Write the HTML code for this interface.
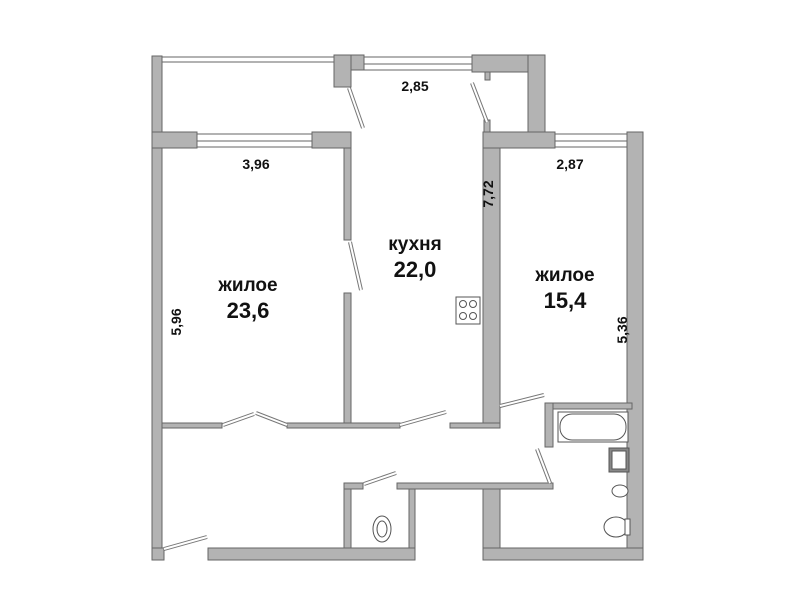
<!DOCTYPE html>
<html><head><meta charset="utf-8"><style>
html,body{margin:0;padding:0;background:#fff;}
svg{display:block}
text{font-family:"Liberation Sans",sans-serif;font-weight:bold;fill:#111;}
</style></head><body>
<svg width="800" height="599" viewBox="0 0 800 599" xmlns="http://www.w3.org/2000/svg">
<g fill="#b3b3b3" stroke="#666" stroke-width="1">
<!-- left outer wall -->
<rect x="152" y="56" width="10" height="504"/>
<rect x="152" y="548" width="12" height="12"/>
<!-- balcony / left room top wall -->
<rect x="152" y="132" width="45" height="16"/>
<rect x="312" y="132" width="39" height="16"/>
<!-- kitchen top -->
<rect x="334" y="55" width="30" height="15"/>
<rect x="334" y="55" width="17" height="32"/>
<rect x="472" y="55" width="73" height="17"/>
<rect x="528" y="55" width="17" height="77"/>
<rect x="485" y="72" width="5" height="8"/>
<rect x="484" y="120" width="6" height="12"/>
<!-- kitchen left wall -->
<rect x="344" y="148" width="7" height="92"/>
<rect x="344" y="293" width="7" height="135"/>
<!-- kitchen right wall -->
<rect x="483" y="132" width="17" height="296"/>
<!-- right room top wall -->
<rect x="483" y="132" width="72" height="16"/>
<rect x="627" y="132" width="16" height="16"/>
<!-- right outer wall -->
<rect x="627" y="132" width="16" height="428"/>
<!-- bottom walls -->
<rect x="208" y="548" width="207" height="12"/>
<rect x="483" y="548" width="160" height="12"/>
<!-- hall horizontal walls -->
<rect x="162" y="423" width="60" height="5"/>
<rect x="287" y="423" width="113" height="5"/>
<rect x="450" y="423" width="50" height="5"/>
<!-- WC -->
<rect x="344" y="483" width="7" height="65"/>
<rect x="344" y="483" width="19" height="6"/>
<rect x="397" y="483" width="156" height="6"/>
<rect x="409" y="489" width="6" height="59"/>
<rect x="483" y="489" width="17" height="59"/>
<!-- bathroom -->
<rect x="545" y="403" width="87" height="6"/>
<rect x="545" y="403" width="8" height="44"/>
</g>
<!-- windows -->
<g fill="#fff" stroke="#666" stroke-width="1">
<rect x="162" y="57" width="172" height="5"/>
<rect x="364" y="57" width="108" height="13"/>
<rect x="197" y="134" width="115" height="13"/>
<rect x="555" y="134" width="72" height="13"/>
</g>
<g stroke="#666" stroke-width="1">
<line x1="364" y1="64" x2="472" y2="64"/>
<line x1="197" y1="141" x2="312" y2="141"/>
<line x1="555" y1="141" x2="627" y2="141"/>
</g>
<!-- door leaves -->
<g stroke="#777" stroke-width="4" stroke-linecap="butt" fill="none">
<line x1="349" y1="88" x2="363" y2="128"/>
<line x1="472" y1="83" x2="487" y2="122"/>
<line x1="350" y1="242" x2="361" y2="290"/>
<line x1="223" y1="425" x2="254" y2="414"/>
<line x1="256" y1="413" x2="287" y2="425"/>
<line x1="400" y1="425" x2="446" y2="412"/>
<line x1="500" y1="406" x2="544" y2="395"/>
<line x1="537" y1="449" x2="550" y2="483"/>
<line x1="364" y1="484" x2="396" y2="473"/>
<line x1="164" y1="549" x2="207" y2="537"/>
</g>
<g stroke="#fff" stroke-width="2" fill="none">
<line x1="349" y1="88" x2="363" y2="128"/>
<line x1="472" y1="83" x2="487" y2="122"/>
<line x1="350" y1="242" x2="361" y2="290"/>
<line x1="223" y1="425" x2="254" y2="414"/>
<line x1="256" y1="413" x2="287" y2="425"/>
<line x1="400" y1="425" x2="446" y2="412"/>
<line x1="500" y1="406" x2="544" y2="395"/>
<line x1="537" y1="449" x2="550" y2="483"/>
<line x1="364" y1="484" x2="396" y2="473"/>
<line x1="164" y1="549" x2="207" y2="537"/>
</g>
<!-- stove -->
<g fill="#fff" stroke="#555" stroke-width="1">
<rect x="456" y="297" width="24" height="27"/>
<circle cx="463" cy="304" r="3.5"/><circle cx="473" cy="304" r="3.5"/>
<circle cx="463" cy="316" r="3.5"/><circle cx="473" cy="316" r="3.5"/>
<!-- bath -->
<rect x="558" y="412" width="70" height="30"/>
<rect x="560" y="414" width="66" height="26" rx="12"/>
<!-- sink -->
<rect x="609" y="448" width="20" height="24" fill="#888"/>
<rect x="612" y="451" width="14" height="18"/>
<!-- toilets -->
<ellipse cx="382" cy="529" rx="9" ry="13"/>
<ellipse cx="382" cy="529" rx="5" ry="8"/>
<ellipse cx="620" cy="491" rx="8" ry="6"/>
<ellipse cx="616" cy="527" rx="12" ry="10"/>
<rect x="625" y="519" width="5" height="16"/>
</g>
<!-- labels -->
<text x="248" y="291" font-size="19" text-anchor="middle">жилое</text>
<text x="248" y="318" font-size="22" text-anchor="middle">23,6</text>
<text x="415" y="250" font-size="19" text-anchor="middle">кухня</text>
<text x="415" y="277" font-size="22" text-anchor="middle">22,0</text>
<text x="565" y="281" font-size="19" text-anchor="middle">жилое</text>
<text x="565" y="308" font-size="22" text-anchor="middle">15,4</text>
<text x="415" y="91" font-size="14" text-anchor="middle">2,85</text>
<text x="256" y="169" font-size="14" text-anchor="middle">3,96</text>
<text x="570" y="169" font-size="14" text-anchor="middle">2,87</text>
<text font-size="14" text-anchor="middle" transform="translate(493,194) rotate(-90)">7,72</text>
<text font-size="14" text-anchor="middle" transform="translate(181,322) rotate(-90)">5,96</text>
<text font-size="14" text-anchor="middle" transform="translate(627,330) rotate(-90)">5,36</text>
</svg>
</body></html>
